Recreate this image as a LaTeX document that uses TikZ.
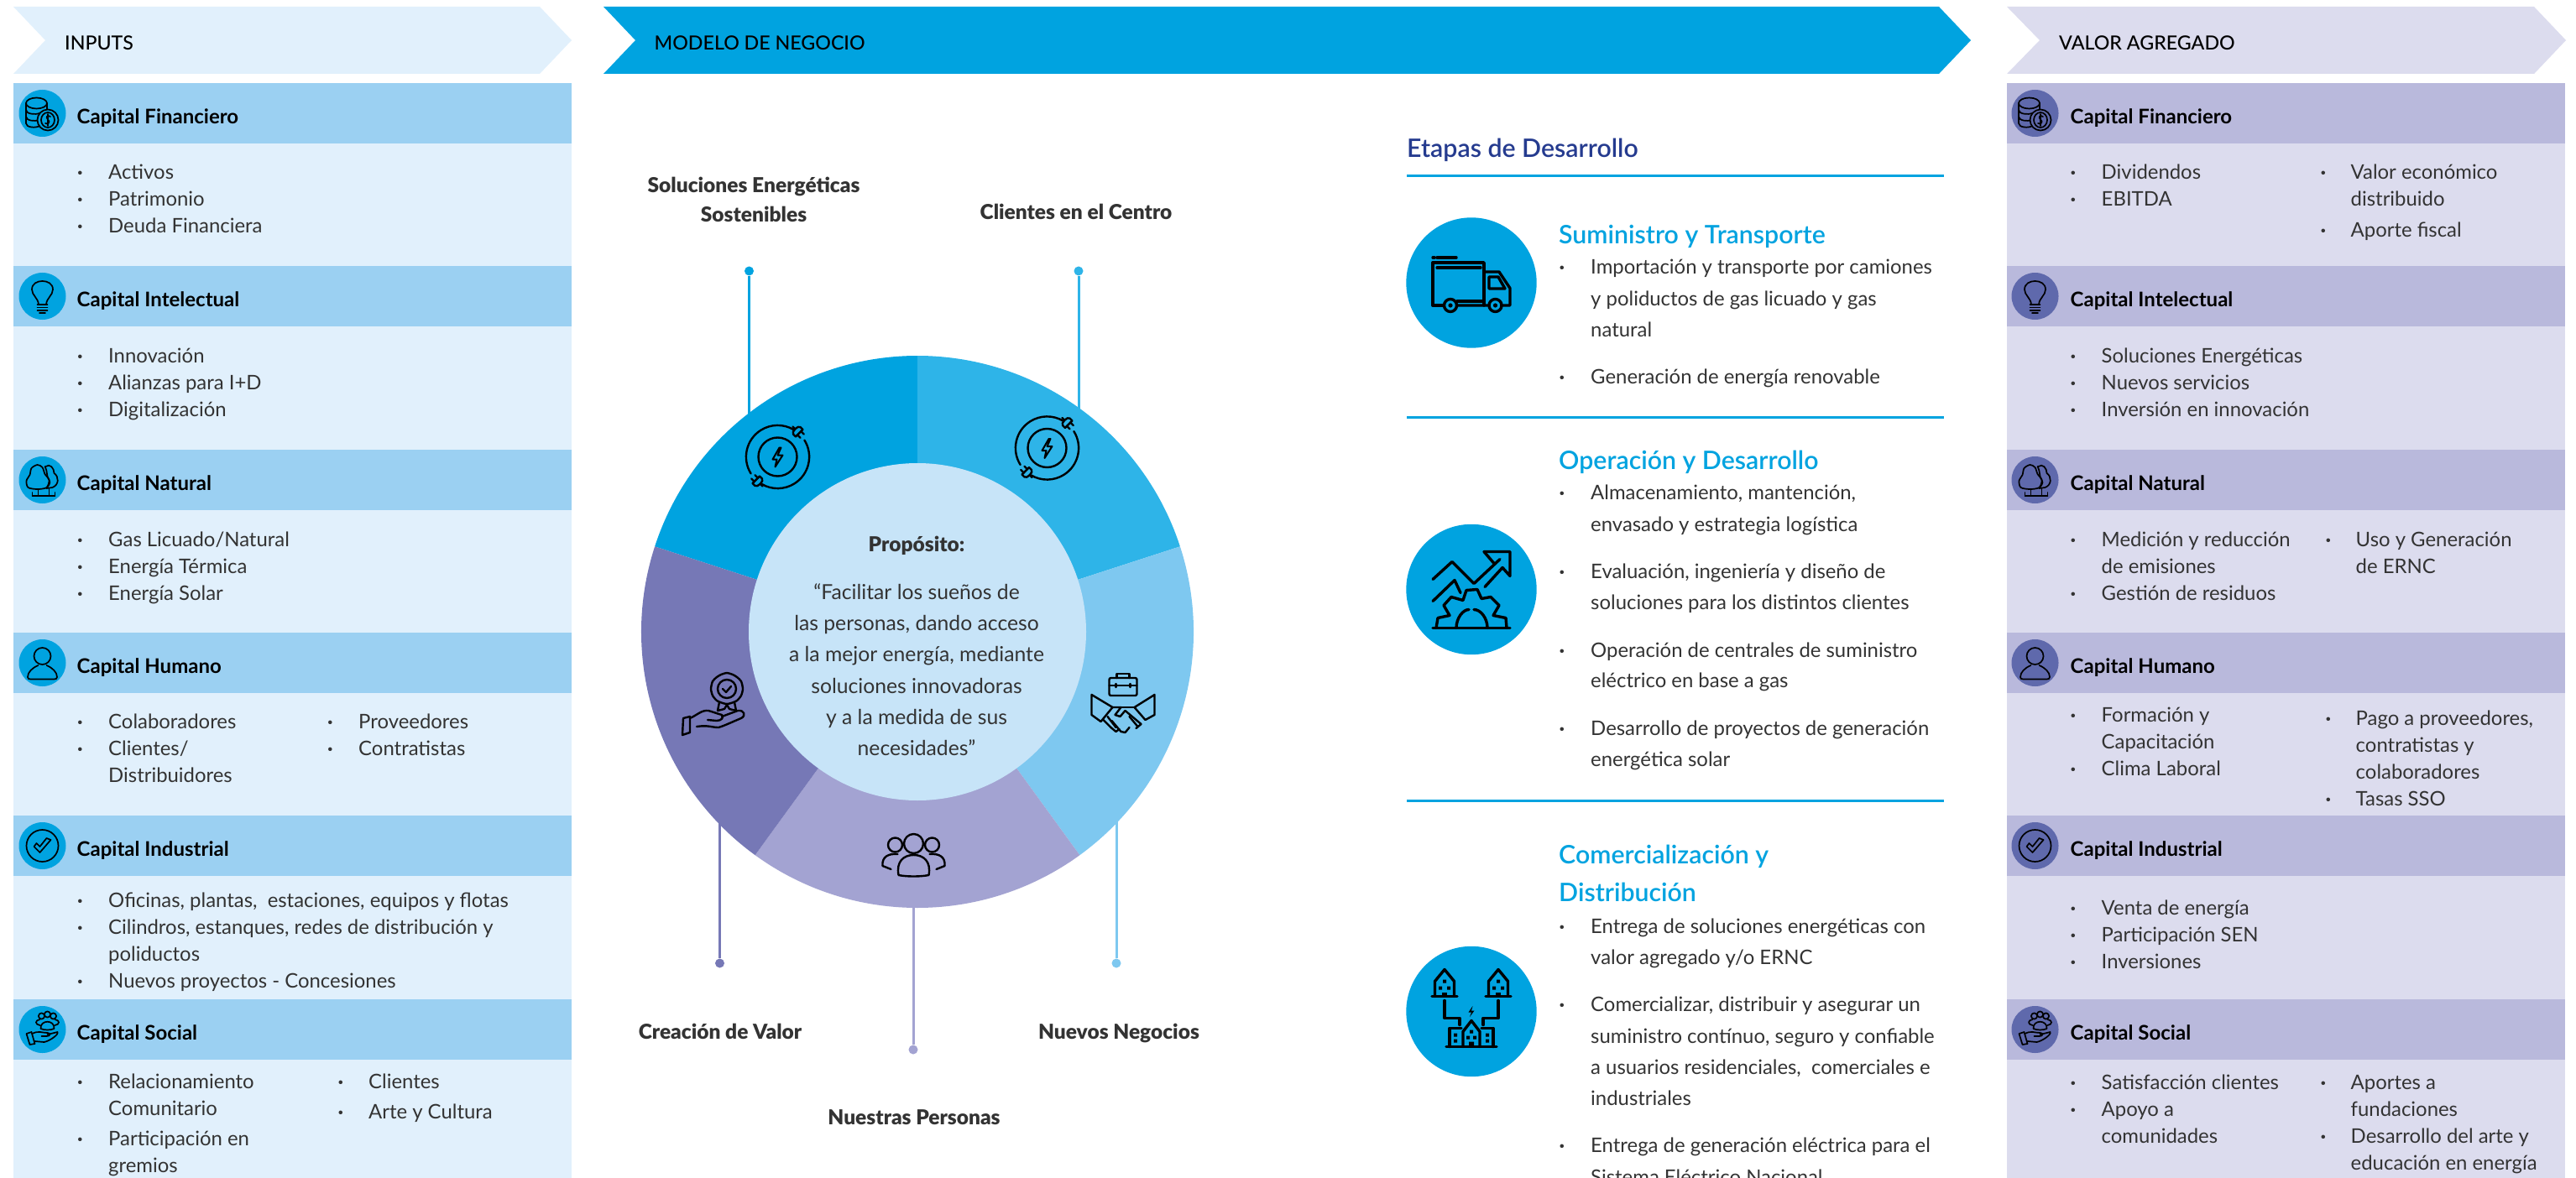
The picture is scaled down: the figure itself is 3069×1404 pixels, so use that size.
\documentclass[tikz,border=0pt]{standalone}
\usepackage{fontspec}
\setmainfont{Lato}
\newfontfamily\latoblackf{Lato Black}
\newfontfamily\latomediumf{Lato Medium}
\newfontfamily\latosemif{Lato Semibold}
\definecolor{lightL}{HTML}{E1F0FC}
\definecolor{hdrL}{HTML}{9BD0F2}
\definecolor{cyanA}{HTML}{00A3E0}
\definecolor{lightR}{HTML}{DCDCEE}
\definecolor{hdrR}{HTML}{B9B9DC}
\definecolor{circR}{HTML}{5F69AC}
\definecolor{wedgeB}{HTML}{2EB4E8}
\definecolor{wedgeC}{HTML}{7EC8F0}
\definecolor{wedgeD}{HTML}{A3A3D2}
\definecolor{wedgeE}{HTML}{7678B6}
\definecolor{discC}{HTML}{C7E4F8}
\definecolor{bodyC}{HTML}{333333}
\definecolor{navyC}{HTML}{253B8F}
\colorlet{icbg}{cyanA}
\tikzset{
  bodytxt/.style={font=\fontsize{23.9}{24}\selectfont,text=bodyC,anchor=base west,inner sep=0pt},
  bulletmark/.style={font=\fontsize{24}{24}\selectfont\bfseries,text=bodyC,anchor=base,inner sep=0pt},
  headtxt/.style={font=\fontsize{24}{24}\selectfont\bfseries,text=black,anchor=base west,inner sep=0pt},
  chevtxt/.style={font=\fontsize{23.2}{24}\latomediumf\selectfont,text=black,anchor=base west,inner sep=0pt},
  labeltxt/.style={font=\fontsize{24.5}{25}\latoblackf\selectfont,text=bodyC,anchor=base,inner sep=0pt},
  purposetxt/.style={font=\fontsize{24.7}{25}\selectfont,text=bodyC,anchor=base,inner sep=0pt},
  stagetitle/.style={font=\fontsize{30.3}{31}\latosemif\selectfont,text=cyanA,anchor=base west,inner sep=0pt},
  stagetxt/.style={font=\fontsize{23.9}{24}\selectfont,text=bodyC,anchor=base west,inner sep=0pt},
  rule/.style={draw=cyanA,line width=3pt},
  dotend/.style={circle,inner sep=0pt,minimum size=11pt,draw=none},
  linkline/.style={line width=3pt},
  ic/.style={draw=black,line width=1.7pt,line cap=round,line join=round},
  icb/.style={draw=black,line width=3.4pt,line cap=round,line join=round},
  icm/.style={draw=black,line width=2.4pt,line cap=round,line join=round},
  % small icons
  pics/coinicon/.style={code={
    \draw[ic] (-19.5,-12) -- (-19.5,12) .. controls (-19.5,17) and (-8,18) .. (-3,15);
    \draw[ic] (5.5,-12) -- (5.5,-4);
    \draw[ic] (-19.5,-4) .. controls (-19.5,1) and (-8,2) .. (-4,0);
    \draw[ic] (-19.5,4) .. controls (-19.5,9) and (-8,10) .. (-5,8);
    \draw[ic,fill=icbg] (-7,-12) ellipse [x radius=12.5,y radius=6.5];
    \draw[ic,fill=icbg] (6.5,8) circle (12.5);
    \draw[ic] (6.5,8) ellipse [x radius=8,y radius=9];
    \draw[ic] (9.5,4) .. controls (6,1.5) and (3.5,4.5) .. (6.5,7.5) .. controls (10,10) and (7,14) .. (3.5,12);
    \draw[ic] (6.5,1) -- (6.5,15);
  }},
  pics/bulbicon/.style={code={
    \draw[ic] (-4.5,10) .. controls (-5,2) and (-12.5,-1) .. (-12.5,-8) .. controls (-12.5,-15) and (-6,-18) .. (0,-18)
       .. controls (6,-18) and (12.5,-15) .. (12.5,-8) .. controls (12.5,-1) and (5,2) .. (4.5,10) -- cycle;
    \draw[ic] (-6,10) -- (6,10) (-6,13.5) -- (6,13.5) (-6,17) -- (6,17) (-3.5,20) -- (3.5,20);
  }},
  pics/treeicon/.style={code={
    \draw[ic] (4,-16) .. controls (9,-20) and (14,-14) .. (14,-8) .. controls (20,-4) and (20,6) .. (12,9) -- (5,10);
    \draw[ic] (3,-16) .. controls (7,-8) and (4,-6) .. (8,0) .. controls (11,4) and (6,8) .. (5,10);
    \draw[ic] plot[smooth cycle] coordinates {(-6,-18) (0,-15) (3,-7) (8,0) (5,9) (-6,11) (-17,9) (-19,1) (-15,-6) (-13,-14)};
    \draw[ic] (-5,11) -- (-5,18) (8,10) -- (8,18);
    \draw[ic] (-12,19) -- (15,19);
    \draw[ic] (-12,15) -- (-12,19) (15,15) -- (15,19);
  }},
  pics/personicon/.style={code={
    \draw[ic] (0,-8) circle (10);
    \draw[ic] (-5,3) .. controls (-12,6) and (-17.5,11) .. (-17.5,17) .. controls (-17.5,19) and (-16,19.5) .. (-14,19.5)
       -- (14,19.5) .. controls (16,19.5) and (17.5,19) .. (17.5,17) .. controls (17.5,11) and (12,6) .. (5,3);
  }},
  pics/checkicon/.style={code={
    \draw[ic] (0,0) circle (19);
    \draw[ic] (-10,1) -- (-3,8) -- (10,-7) -- (5,-9) -- (-3,1) -- (-7,-3) -- cycle;
  }},
  pics/socialicon/.style={code={
    \draw[ic] (-1,-16) circle (3.6) (6,-18) circle (3.6) (13,-16) circle (3.6);
    \draw[ic] (-3,-5) .. controls (-9,-6) and (-9,-11) .. (-3,-12) (15,-12) .. controls (21,-11) and (21,-6) .. (15,-5);
    \draw[ic] (-2,-1) .. controls (-3,-12) and (15,-12) .. (14,-1) .. controls (10,1) and (2,1) .. (-2,-1);
    \draw[ic] (-19,5) -- (-13,3) -- (-9,17) -- (-15,18) -- cycle;
    \draw[ic] (-12,5) .. controls (-5,1) and (0,4) .. (6,4) .. controls (10,4) and (10,8) .. (5,8) -- (-1,8);
    \draw[ic] (6,6) -- (18,3) .. controls (20,6) and (8,14) .. (2,15) -- (-9,14);
  }},
  % big stage icons
  pics/truckicon/.style={code={
    \draw[icb] (15,27) -- (15,-24) -- (-46,-24) -- (-46,27) -- (-33,27);
    \draw[icb] (-17,27) -- (20,27) (36,27) -- (46,27) -- (46,6.5) -- (33,-13) -- (15,-13);
    \draw[icb] (21,7) -- (21,-7) -- (32,-7) -- (40,7) -- cycle;
    \draw[icb] (-41,-18) -- (11,-18) (-41,-30) -- (-18,-30) (-46,-30) -- (-44,-30);
    \draw[icb] (-17,22) -- (15,22);
    \draw[icb] (-25,27) circle (7.5) (28.5,27) circle (7.5);
    \fill (-25,27) circle (2.6) (28.5,27) circle (2.6);
  }},
  pics/gearicon/.style={code={
    \draw[icb] (-46,46) -- (46,46);
    \draw[icb] (-18,46) .. controls (-18,34) and (-10,24) .. (-3,24) (3,24) .. controls (11,24) and (19,34) .. (19,46);
    \draw[icb] (-42,46) -- (-40,34) -- (-26,31) -- (-33,19) -- (-24,9) -- (-10,13) -- (-6,1) -- (7,0) -- (12,11) -- (23,9) -- (33,19) -- (26,31) -- (41,34) -- (42,46);
    \draw[icb] (-46,-12) -- (-23,-33) -- (3,-7) -- (34,-36);
    \draw[icb] (15,-45) -- (46,-45) -- (46,-16) -- (37,-26) -- (16,-3);
    \draw[icb] (15,-45) -- (27,-31);
    \draw[icb] (-46,14) -- (-20,-11) -- (-13,4);
  }},
  pics/cityicon/.style={code={
    \foreach \hx in {-32,32}{
      \begin{scope}[xshift=\hx pt]
      \draw[icb] (-15,-18) -- (15,-18);
      \draw[icb] (-11.5,-18) -- (-11.5,-36) -- (0,-50) -- (11.5,-36) -- (11.5,-18);
      \fill (-2,-38) rectangle (2,-34) (-7,-30) rectangle (-3,-26) (3,-30) rectangle (7,-26);
      \fill (-3,-23) rectangle (3,-18);
      \end{scope}
    }
    \draw[icb] (-32,-13) -- (-32,8) -- (-14,8) -- (-14,16);
    \draw[icb] (32,-13) -- (32,8) -- (14,8) -- (14,16);
    \fill (1.5,-6.5) -- (-3.5,1) -- (0,1) -- (-2,6.5) -- (3.5,-1) -- (0,-1) -- cycle;
    \draw[icb] (-30,42) -- (30,42);
    \draw[icb] (-26,42) -- (-26,20) -- (-12,20) (26,42) -- (26,20) -- (12,20);
    \draw[icb] (-10,42) -- (-10,24) -- (0,11) -- (10,24) -- (10,42);
    \fill (-2,22) rectangle (2,26) (-6,29) rectangle (-2,33) (2,29) rectangle (6,33) (-3,36) rectangle (3,42);
    \fill (-21,26) rectangle (-17,30) (-21,33) rectangle (-17,37) (17,26) rectangle (21,30) (17,33) rectangle (21,37);
  }},
  % wheel icons
  pics/energyicon/.style={code={
    \draw[icm] (0,0) circle (23);
    \draw[icm,line width=2pt] (2,-11) -- (-6,3) -- (-1,3) -- (-3,12) -- (6,-2) -- (0,-2) -- (4,-11) -- cycle;
    \draw[icm] (-32:37.6) arc [start angle=-32,end angle=120,radius=37.6];
    \draw[icm] (148:37.6) arc [start angle=148,end angle=300,radius=37.6];
    \begin{scope}[shift={(25,-29)},rotate=45]
      \draw[icm] (-6,1) -- (-6,-3) .. controls (-6,-7) and (6,-7) .. (6,-3) -- (6,1) -- cycle;
      \draw[icm] (-3,1) -- (-3,6) (3,1) -- (3,6) (0,-6) -- (0,-10);
    \end{scope}
    \begin{scope}[shift={(-25,28)},rotate=225]
      \draw[icm] (-6,1) -- (-6,-3) .. controls (-6,-7) and (6,-7) .. (6,-3) -- (6,1) -- cycle;
      \draw[icm] (-3,1) -- (-3,6) (3,1) -- (3,6) (0,-6) -- (0,-10);
    \end{scope}
  }},
  pics/shakeicon/.style={code={
    \draw[icm,rounded corners=2pt] (-16,-31) rectangle (17,-10);
    \draw[icm] (-7,-31) -- (-7,-36) -- (8,-36) -- (8,-31);
    \draw[icm] (-16,-22) -- (17,-22) (-8,-24) -- (-8,-20) (9,-24) -- (9,-20);
    \draw[icm] (-37,-11) -- (-12,4) -- (-26,21) -- (-37,13) -- cycle;
    \draw[icm] (38,-11) -- (14,4) -- (27,19) -- (38,13) -- cycle;
    \draw[icm] (-12,4) -- (-2,4) -- (-9,13) -- (-3,15) -- (3,8) -- (22,24) -- (16,29);
    \draw[icm] (14,4) -- (-2,4);
    \draw[icm] (-23,19) -- (-14,28) (-18,15) -- (-8,28) (-13,20) -- (-2,33) -- (3,34) -- (8,28) (8,15) -- (18,27);
    \draw[icm] (-14,28) -- (-8,33) -- (-4,30);
  }},
  pics/medalicon/.style={code={
    \draw[icm] plot[smooth cycle,tension=0.4] coordinates {(15,-37) (22,-35) (27,-32) (32,-27) (34,-18) (32,-10) (27,-4) (20,-1) (15,0) (10,-1) (3,-4) (-2,-10) (-4,-18) (-2,-27) (3,-32) (8,-35)};
    \draw[icm] (15,-18) circle (11);
    \draw[icm] (10,-18) -- (14,-14) -- (20,-21);
    \draw[icm] (6,-2) -- (4,8) -- (12,6) -- (15,1) -- (18,6) -- (26,8) -- (24,-2);
    \draw[icm] (-37,17) -- (-29,15) -- (-29,34) -- (-38,37) -- cycle;
    \draw[icm] (-29,17) .. controls (-20,13) and (-15,7) .. (-7,8) .. controls (0,10) and (5,12) .. (9,13) .. controls (12,16) and (8,20) .. (3,20) -- (-8,19);
    \draw[icm] (9,15) -- (28,8) .. controls (36,7) and (38,14) .. (32,17) .. controls (20,22) and (12,26) .. (5,28) .. controls (-3,28) and (-7,25) .. (-21,27);
  }},
  pics/crewicon/.style={code={
    \draw[icm] (0,-13.5) circle (11.5);
    \draw[icm] (-22,-12) circle (8.5) (22,-12) circle (8.5);
    \draw[icm] (-18,24) .. controls (-21,8) and (-12,0) .. (0,0) .. controls (12,0) and (21,8) .. (18,24) .. controls (8,26) and (-8,26) .. (-18,24);
    \draw[icm] (-37,13) .. controls (-38,2) and (-30,-2) .. (-19,-1);
    \draw[icm] (37,13) .. controls (38,2) and (30,-2) .. (19,-1);
    \draw[icm] (-37,13) -- (-27,17);
    \draw[icm] (37,13) -- (27,17);
  }},
}
\newcount\itemno
\newcommand{\bodyitem}[4]{%
  \global\advance\itemno by 1
  \node[bulletmark] (b\the\itemno) at (#1,#3) {·};
  \node[bodytxt] (t\the\itemno) at (#2,#3) {#4};}
\newcommand{\bodycont}[3]{%
  \global\advance\itemno by 1
  \node[bodytxt] (t\the\itemno) at (#1,#2) {#3};}
\newcommand{\stageitem}[2]{%
  \global\advance\itemno by 1
  \node[bulletmark] (b\the\itemno) at (1861,#1) {·};
  \node[stagetxt] (t\the\itemno) at (1895,#1) {#2};}
\newcommand{\stagecont}[2]{%
  \global\advance\itemno by 1
  \node[stagetxt] (t\the\itemno) at (1895,#1) {#2};}
\newcommand{\capitalrow}[4]{% y, title, pic, name
  \fill[hdrband] (\bandL,#1) rectangle (\bandR,#1+72);
  \fill[icbg] (\iconX,#1+36) circle (28);
  \pic at (\iconX,#1+36) {#3};
  \node[headtxt] (#4) at (\titleX,#1+48.5) {#2};}
\newcommand{\donutseg}[3]{%
  \fill[#3] (0,0) -- (#1:329) arc [start angle=#1,end angle=#2,radius=329] -- cycle;}
\begin{document}
\begin{tikzpicture}[x=1pt,y=-1pt]
\useasboundingbox (0,0) rectangle (3069,1404);
\fill[white] (0,0) rectangle (3069,1404);
% ---------- chevrons
\fill[lightL] (16,8) -- (643,8) -- (681,48) -- (643,88) -- (16,88) -- (54,48) -- cycle;
\node[chevtxt] (inputs) at (77,60) {INPUTS};
\fill[cyanA] (719,8) -- (2310,8) -- (2348,48) -- (2310,88) -- (719,88) -- (757,48) -- cycle;
\node[chevtxt] (modelo) at (779.5,60) {MODELO DE NEGOCIO};
\fill[lightR] (2391,8) -- (3019,8) -- (3057,48) -- (3019,88) -- (2391,88) -- (2430,48) -- cycle;
\node[chevtxt] (valor) at (2453,60) {VALOR AGREGADO};
% ---------- left panels
\fill[lightL] (16,99) rectangle (681,1404);
\def\bandL{16}\def\bandR{681}\def\iconX{50.5}\def\titleX{91.5}
\colorlet{hdrband}{hdrL}\colorlet{icbg}{cyanA}
\capitalrow{99}{Capital Financiero}{coinicon}{lf}
\capitalrow{317}{Capital Intelectual}{bulbicon}{li}
\capitalrow{536}{Capital Natural}{treeicon}{ln}
\capitalrow{754}{Capital Humano}{personicon}{lh}
\capitalrow{972}{Capital Industrial}{checkicon}{lin}
\capitalrow{1191}{Capital Social}{socialicon}{ls}
\bodyitem{95.5}{129}{213.5}{Activos}
\bodyitem{95.5}{129}{245.5}{Patrimonio}
\bodyitem{95.5}{129}{277.5}{Deuda Financiera}
\bodyitem{95.5}{129}{432}{Innovación}
\bodyitem{95.5}{129}{464}{Alianzas para I+D}
\bodyitem{95.5}{129}{496}{Digitalización}
\bodyitem{95.5}{129}{651}{Gas Licuado/Natural}
\bodyitem{95.5}{129}{683}{Energía Térmica}
\bodyitem{95.5}{129}{715}{Energía Solar}
\bodyitem{95.5}{129}{868}{Colaboradores}
\bodyitem{95.5}{129}{900}{Clientes/}
\bodycont{129}{932}{Distribuidores}
\bodyitem{393.5}{427}{868}{Proveedores}
\bodyitem{393.5}{427}{900}{Contratistas}
\bodyitem{95.5}{129}{1081}{Oficinas, plantas,\ \ estaciones, equipos y flotas}
\bodyitem{95.5}{129}{1113}{Cilindros, estanques, redes de distribución y}
\bodycont{129}{1145}{poliductos}
\bodyitem{95.5}{129}{1177}{Nuevos proyectos - Concesiones}
\bodyitem{95.5}{129}{1297}{Relacionamiento}
\bodycont{129}{1329}{Comunitario}
\bodyitem{95.5}{129}{1365}{Participación en}
\bodycont{129}{1397}{gremios}
\bodyitem{406}{439}{1297}{Clientes}
\bodyitem{406}{439}{1333}{Arte y Cultura}
% ---------- right panels
\fill[lightR] (2391,99) rectangle (3056,1404);
\def\bandL{2391}\def\bandR{3056}\def\iconX{2424.5}\def\titleX{2466.5}
\colorlet{hdrband}{hdrR}\colorlet{icbg}{circR}
\capitalrow{99}{Capital Financiero}{coinicon}{rf}
\capitalrow{317}{Capital Intelectual}{bulbicon}{ri}
\capitalrow{536}{Capital Natural}{treeicon}{rn}
\capitalrow{754}{Capital Humano}{personicon}{rh}
\capitalrow{972}{Capital Industrial}{checkicon}{rin}
\capitalrow{1191}{Capital Social}{socialicon}{rs}
\bodyitem{2470}{2503.5}{213.5}{Dividendos}
\bodyitem{2470}{2503.5}{245.5}{EBITDA}
\bodyitem{2768}{2800.5}{213.5}{Valor económico}
\bodycont{2800.5}{245.5}{distribuido}
\bodyitem{2768}{2800.5}{283}{Aporte fiscal}
\bodyitem{2470}{2503.5}{432}{Soluciones Energéticas}
\bodyitem{2470}{2503.5}{464}{Nuevos servicios}
\bodyitem{2470}{2503.5}{496}{Inversión en innovación}
\bodyitem{2470}{2503.5}{651}{Medición y reducción}
\bodycont{2503.5}{683}{de emisiones}
\bodyitem{2470}{2503.5}{715}{Gestión de residuos}
\bodyitem{2774}{2806.5}{651}{Uso y Generación}
\bodycont{2806.5}{683}{de ERNC}
\bodyitem{2470}{2503.5}{860}{Formación y}
\bodycont{2503.5}{892}{Capacitación}
\bodyitem{2470}{2503.5}{924}{Clima Laboral}
\bodyitem{2774}{2806.5}{864}{Pago a proveedores,}
\bodycont{2806.5}{896}{contratistas y}
\bodycont{2806.5}{928}{colaboradores}
\bodyitem{2774}{2806.5}{960}{Tasas SSO}
\bodyitem{2470}{2503.5}{1090}{Venta de energía}
\bodyitem{2470}{2503.5}{1122}{Participación SEN}
\bodyitem{2470}{2503.5}{1154}{Inversiones}
\bodyitem{2470}{2503.5}{1298}{Satisfacción clientes}
\bodyitem{2470}{2503.5}{1330}{Apoyo a}
\bodycont{2503.5}{1362}{comunidades}
\bodyitem{2768}{2800.5}{1298}{Aportes a}
\bodycont{2800.5}{1330}{fundaciones}
\bodyitem{2768}{2800.5}{1362}{Desarrollo del arte y}
\bodycont{2800.5}{1394}{educación en energía}
% ---------- connectors
\node[dotend,fill=cyanA] (d1) at (892.5,323) {};
\node[dotend,fill=wedgeB] (d2) at (1285,323) {};
\node[dotend,fill=wedgeE] (d3) at (857.5,1148) {};
\node[dotend,fill=wedgeC] (d4) at (1330,1148) {};
\node[dotend,fill=wedgeD] (d5) at (1088,1251) {};
\coordinate (r1) at (892.5,497);
\coordinate (r2) at (1285,491);
\coordinate (r3) at (857.5,978);
\coordinate (r4) at (1330,976);
\coordinate (r5) at (1088,1076);
\draw[linkline,cyanA] (d1) -- (r1);
\draw[linkline,wedgeB] (d2) -- (r2);
\draw[linkline,wedgeE] (d3) -- (r3);
\draw[linkline,wedgeC] (d4) -- (r4);
\draw[linkline,wedgeD] (d5) -- (r5);
% ---------- donut
\begin{scope}[shift={(1093,753)},x=1pt,y=1pt]
\donutseg{90}{162}{cyanA}
\donutseg{18}{90}{wedgeB}
\donutseg{-54}{18}{wedgeC}
\donutseg{-126}{-54}{wedgeD}
\donutseg{-198}{-126}{wedgeE}
\fill[discC] (0,0) circle (201);
\end{scope}
\pic at (926.5,544.5) {energyicon};
\pic at (1247.5,534) {energyicon};
\pic at (1337.5,839) {shakeicon};
\pic at (851,839) {medalicon};
\pic at (1088.5,1019) {crewicon};
\node[labeltxt] (prop) at (1092,657) {Propósito:};
\node[purposetxt] (p1) at (1092,714) {“Facilitar los sueños de};
\node[purposetxt] (p2) at (1092,751) {las personas, dando acceso};
\node[purposetxt] (p3) at (1092,788) {a la mejor energía, mediante};
\node[purposetxt] (p4) at (1092,826) {soluciones innovadoras};
\node[purposetxt] (p5) at (1092,863) {y a la medida de sus};
\node[purposetxt] (p6) at (1092,900) {necesidades”};
% ---------- wheel labels
\node[labeltxt] (l1a) at (898,230) {Soluciones Energéticas};
\node[labeltxt] (l1b) at (898,265) {Sostenibles};
\node[labeltxt] (l2) at (1282,262) {Clientes en el Centro};
\node[labeltxt] (l3) at (858,1238) {Creación de Valor};
\node[labeltxt] (l4) at (1333,1238) {Nuevos Negocios};
\node[labeltxt] (l5) at (1089,1340) {Nuestras Personas};
% ---------- stages
\node[font=\fontsize{30.3}{31}\latosemif\selectfont,text=navyC,anchor=base west,inner sep=0pt] (etapas) at (1676,187.5) {Etapas de Desarrollo};
\coordinate (ra) at (1676,210); \coordinate (rb) at (2316,210);
\draw[rule] (ra) -- (rb);
\coordinate (rc) at (1676,497.5); \coordinate (rd) at (2316,497.5);
\draw[rule] (rc) -- (rd);
\coordinate (re) at (1676,954); \coordinate (rf2) at (2316,954);
\draw[rule] (re) -- (rf2);
\fill[cyanA] (1753,337) circle (77.7);
\pic at (1753,337) {truckicon};
\fill[cyanA] (1753,702.5) circle (77.7);
\pic at (1753,702.5) {gearicon};
\fill[cyanA] (1753,1205.5) circle (77.7);
\pic at (1753,1205.5) {cityicon};
\node[stagetitle] (s1) at (1857,290.5) {Suministro y Transporte};
\stageitem{326.5}{Importación y transporte por camiones}
\stagecont{364}{y poliductos de gas licuado y gas}
\stagecont{401}{natural}
\stageitem{457}{Generación de energía renovable}
\node[stagetitle] (s2) at (1857,559) {Operación y Desarrollo};
\stageitem{595}{Almacenamiento, mantención,}
\stagecont{633}{envasado y estrategia logística}
\stageitem{689}{Evaluación, ingeniería y diseño de}
\stagecont{726.5}{soluciones para los distintos clientes}
\stageitem{783}{Operación de centrales de suministro}
\stagecont{819}{eléctrico en base a gas}
\stageitem{876}{Desarrollo de proyectos de generación}
\stagecont{913}{energética solar}
\node[stagetitle] (s3a) at (1857,1029.5) {Comercialización y};
\node[stagetitle] (s3b) at (1857,1074.5) {Distribución};
\stageitem{1112}{Entrega de soluciones energéticas con}
\stagecont{1149}{valor agregado y/o ERNC}
\stageitem{1205}{Comercializar, distribuir y asegurar un}
\stagecont{1243}{suministro contínuo, seguro y confiable}
\stagecont{1280}{a usuarios residenciales,\ \ comerciales e}
\stagecont{1317}{industriales}
\stageitem{1373}{Entrega de generación eléctrica para el}
\stagecont{1411}{Sistema Eléctrico Nacional}
\end{tikzpicture}
\end{document}
